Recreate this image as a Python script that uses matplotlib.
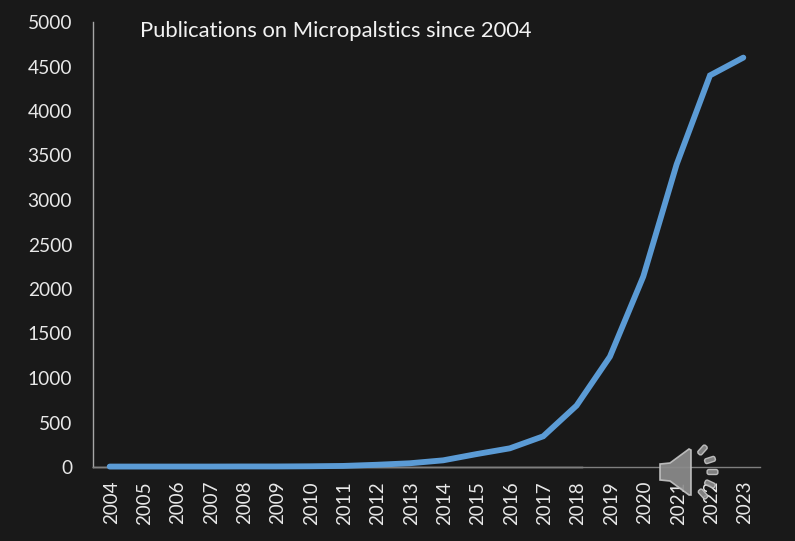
import numpy as np
import matplotlib
matplotlib.use('Agg')
import matplotlib.pyplot as plt
from matplotlib.patches import Polygon, FancyBboxPatch
from matplotlib.transforms import Affine2D

years = [str(y) for y in range(2004, 2024)]
publications = [5, 5, 5, 5, 6, 6, 8, 12, 25, 42, 75, 145, 210, 345, 690, 1240, 2140, 3400, 4400, 4600]
y_ticks = [0, 500, 1000, 1500, 2000, 2500, 3000, 3500, 4000, 4500, 5000]
title = 'Publications on Micropalstics since 2004'

BG = '#191919'
W, H = 795, 541

plt.rcParams['font.family'] = ['Lato', 'DejaVu Sans']

fig = plt.figure(figsize=(W / 100, H / 100), dpi=100, facecolor=BG)
ax = fig.add_axes([93 / W, 1 - 467 / H, (760 - 93) / W, (467 - 22) / H], facecolor=BG)

x = np.arange(len(years))
ax.plot(x, publications, color='#5b9bd5', lw=4.2, solid_capstyle='round', solid_joinstyle='miter', clip_on=False, zorder=3)

ax.set_xlim(-0.5, len(years) - 0.5)
ax.set_ylim(0, 5000)
ax.set_xticks(x)
ax.set_xticklabels(years, rotation=90, fontsize=13.5, color='#e8e8e8')
ax.set_yticks(y_ticks)
ax.set_yticklabels(y_ticks, fontsize=13.8, color='#e8e8e8')
ax.tick_params(length=0)
ax.tick_params(axis='x', pad=10)
ax.tick_params(axis='y', pad=15)
for lab in ax.get_xticklabels():
    lab.set_transform(lab.get_transform() + Affine2D().translate(1.5, 0))

for s in ['top', 'right']:
    ax.spines[s].set_visible(False)
ax.spines['left'].set_color('#a6a6a6')
ax.spines['left'].set_linewidth(1)
ax.spines['bottom'].set_color('#7f7f7f')
ax.spines['bottom'].set_linewidth(1)
# brighter run of the baseline up to 2018
ax.plot([-0.5, 14.15], [0, 0], color='#d0d0d0', lw=1, zorder=2, clip_on=False)

fig.text(140 / W, 1 - 31 / H, title, fontsize=15.8, color='#f2f2f2', va='center', ha='left')

# speaker icon on top of everything, laid out in pixels
ov = fig.add_axes([0, 0, 1, 1], facecolor='none')
ov.set_xlim(0, W)
ov.set_ylim(H, 0)
ov.axis('off')
cone = [(660, 464), (670, 463), (689, 449), (691, 450), (691, 495), (689, 495), (670, 481), (660, 480)]
ov.add_patch(Polygon(cone, closed=True, facecolor='#8c8c8c', edgecolor='#c4c4c4', lw=1.2, alpha=0.92))
for cx, cy, ang in [(702.5, 450, -48), (710, 460, -18), (712.5, 472, 0), (710, 484, 25), (703, 494, 48)]:
    pill = FancyBboxPatch((-3.5, -0.6), 7, 1.2, boxstyle='round,pad=1.9', facecolor='#8c8c8c', edgecolor='#c8c8c8', lw=1.0, alpha=0.9)
    pill.set_transform(Affine2D().rotate_deg(ang).translate(cx, cy) + ov.transData)
    ov.add_patch(pill)

fig.savefig('out.png', dpi=100, facecolor=BG)
